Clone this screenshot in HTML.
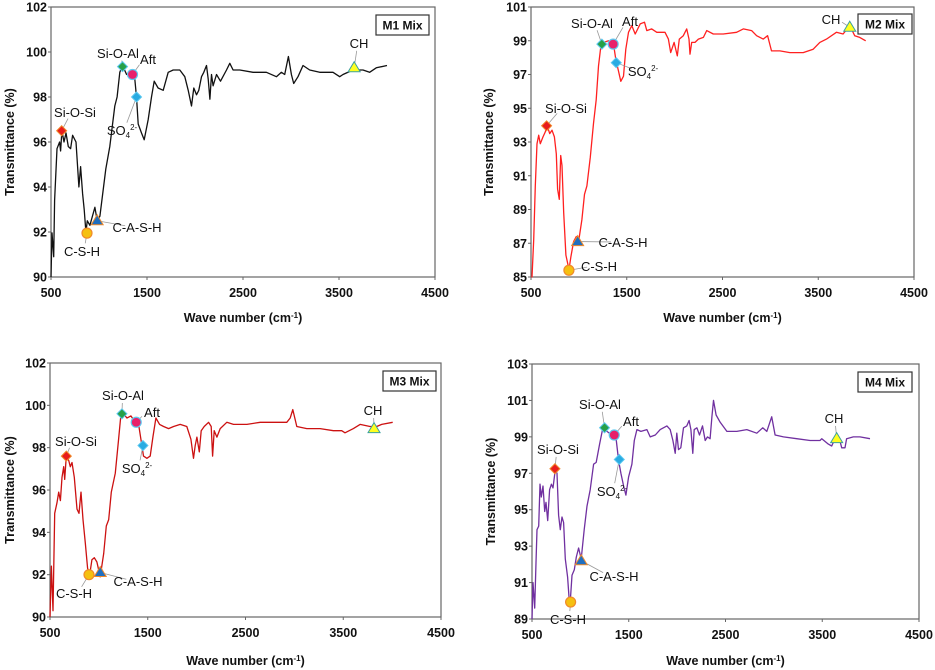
<!DOCTYPE html>
<html><head><meta charset="utf-8"><style>
html,body{margin:0;padding:0;background:#fff;}
svg{display:block;font-family:"Liberation Sans",Arial,sans-serif;}
</style></head><body>
<svg id="fig" width="935" height="670" viewBox="0 0 935 670"></svg>
<script>
// ---------- data ----------
const xTicks = [500,1500,2500,3500,4500];
const markerNames = ["Si-O-Si","C-S-H","C-A-S-H","Si-O-Al","Aft","SO4","CH"];

const m1Wave = [500,510,528,538,562,590,600,614,635,656,680,704,725,760,791,808,829,846,864,878,905,957,981,1009,1071,1113,1165,1189,1217,1245,1287,1339,1373,1391,1408,1443,1471,1512,1547,1575,1616,1669,1721,1773,1842,1894,1929,1964,1988,2016,2040,2068,2092,2120,2137,2155,2172,2189,2224,2266,2328,2363,2397,2467,2605,2744,2848,2900,2934,2973,3004,3028,3073,3125,3195,3299,3438,3507,3542,3646,3750,3819,3889,4000];
const m1Trans = [90,91.96,90.9,93.4,95.7,96.0,95.6,96.5,96.0,96.4,95.8,95.7,96.3,96.0,94.0,94.9,93.7,93.0,92.0,92.5,92.3,93.1,92.5,92.7,94.8,95.8,97.6,98.0,99.1,99.4,99.0,99.0,98.8,98.0,96.8,96.4,96.1,97.0,98.0,98.7,98.4,98.3,99.1,99.2,99.2,98.9,98.3,97.6,98.4,98.1,98.3,98.9,99.1,99.4,98.8,97.9,99.0,98.5,99.0,98.7,99.2,99.5,99.2,99.2,99.1,99.1,98.9,99.1,99.0,99.8,99.0,98.6,98.9,99.4,99.2,99.1,99.1,98.9,99.0,99.2,99.2,99.1,99.3,99.4];
const m1MarkerX = [611,875,981,1245,1349,1391,3658];
const m1MarkerY = [96.5,91.95,92.5,99.35,99.0,98.0,99.3];

const m2Wave = [505,510,528,545,563,580,597,625,649,667,695,719,744,764,778,796,810,824,841,865,883,896,917,945,973,997,1032,1059,1084,1119,1153,1181,1205,1230,1258,1310,1362,1386,1414,1438,1466,1490,1518,1553,1588,1640,1685,1709,1761,1814,1900,1935,1959,1994,2028,2049,2091,2126,2150,2161,2178,2213,2248,2300,2335,2404,2508,2647,2717,2804,2856,2925,2971,3012,3099,3204,3343,3447,3516,3586,3690,3760,3829,3881,3933,3996];
const m2Trans = [85,85,87.2,90.4,92.9,93.4,92.9,93.3,93.6,94.0,93.5,93.7,93.3,92.3,90.2,89.6,92.2,91.6,88.8,86.3,85.8,85.4,86.2,87.1,87.4,87.1,88.4,89.9,90.4,92.1,94.1,95.5,97.5,98.7,98.9,99.0,98.8,97.9,97.2,96.6,96.9,98.5,99.5,99.9,99.4,100.0,100.1,99.6,99.7,99.5,99.5,99.1,98.3,98.9,98.1,99.1,99.3,99.7,99.1,98.2,98.9,98.9,99.1,99.2,99.6,99.4,99.4,99.5,99.7,99.6,99.3,99.1,99.3,98.4,98.4,98.3,98.3,98.5,98.9,99.1,99.5,99.4,99.9,99.3,99.2,99.0];
const m2MarkerX = [663,896,987,1240,1358,1390,3829];
const m2MarkerY = [93.96,85.4,87.1,98.8,98.8,97.7,99.8];

const m3Wave = [500,514,531,548,572,589,606,623,640,650,667,691,708,725,749,776,797,817,838,861,885,906,929,953,980,1014,1049,1076,1100,1127,1168,1202,1226,1253,1287,1328,1372,1406,1430,1457,1491,1525,1553,1583,1621,1662,1713,1764,1832,1900,1941,1968,1985,2003,2027,2047,2078,2122,2149,2163,2180,2207,2241,2309,2377,2514,2650,2820,2922,2957,2984,3025,3127,3263,3399,3484,3518,3604,3672,3774,3842,3893,4006];
const m3Trans = [90,92.4,90.3,94.9,95.4,95.9,95.5,96.6,97.1,96.5,97.6,97.4,97.1,97.3,96.6,95.1,94.9,95.9,94.6,93.5,92.3,92.0,92.7,92.8,92.6,91.9,93.0,94.3,94.6,95.9,96.8,98.4,99.6,99.6,99.4,99.5,99.2,99.1,98.4,97.6,97.5,97.6,98.5,99.4,99.1,99.0,98.9,99.0,99.1,99.0,98.4,97.5,98.1,98.5,97.8,98.8,99.0,99.2,99.0,97.6,98.8,98.5,98.9,99.2,99.1,99.1,99.2,99.2,99.2,99.4,99.8,99.0,98.9,98.9,98.8,98.8,98.7,98.9,99.1,99.0,99.0,99.1,99.2];
const m3MarkerX = [667,899,1014,1236,1382,1451,3815];
const m3MarkerY = [97.6,92.0,92.1,99.6,99.2,98.1,98.9];

const m4Wave = [500,510,528,541,552,569,583,596,614,631,645,662,682,700,717,741,758,775,793,810,827,844,868,882,896,913,937,958,982,1009,1040,1068,1102,1137,1164,1199,1233,1274,1326,1371,1395,1419,1447,1471,1498,1533,1557,1584,1626,1688,1722,1774,1825,1894,1928,1956,1980,1997,2014,2038,2066,2100,2124,2142,2162,2176,2204,2231,2262,2290,2314,2341,2359,2376,2403,2445,2514,2617,2720,2823,2885,2927,2978,3013,3099,3236,3374,3477,3495,3563,3598,3632,3677,3701,3735,3752,3821,3890,3994];
const m4Trans = [89,91.0,89.6,92.1,93.9,94.1,96.4,95.7,96.3,94.9,95.4,94.4,96.1,96.4,96.2,97.2,97.0,94.7,93.9,94.6,94.3,92.3,91.3,90.2,90.0,91.4,91.7,92.4,92.9,92.3,93.9,95.2,96.1,97.5,97.6,98.6,99.5,99.3,99.1,98.8,97.7,97.0,96.3,95.8,96.8,97.5,98.8,99.4,99.3,99.4,99.0,99.1,99.4,99.6,99.4,98.8,98.1,99.2,98.3,98.4,99.5,99.6,99.9,99.4,98.1,99.4,99.5,99.1,99.6,98.8,99.0,98.9,100.1,101.0,100.2,99.8,99.3,99.3,99.4,99.2,99.5,99.3,100.1,99.1,99.0,98.9,98.8,98.8,98.9,98.6,98.5,98.9,98.9,98.4,98.4,98.9,99.0,99.0,98.9];
const m4MarkerX = [737,899,1009,1250,1350,1402,3649];
const m4MarkerY = [97.25,89.93,92.2,99.5,99.1,97.76,98.9];

const m1YTicks=[90,92,94,96,98,100,102];
const m2YTicks=[85,87,89,91,93,95,97,99,101];
const m3YTicks=[90,92,94,96,98,100,102];
const m4YTicks=[89,91,93,95,97,99,101,103];

// ---------- layout (not data) ----------
const panels = [
 {id:"m1",title:"M1 Mix",wave:m1Wave,trans:m1Trans,mx:m1MarkerX,my:m1MarkerY,yTicks:m1YTicks,color:"#111",
  L:51,R:435,T:7,B:277,box:[376,15,53,20],yTitleX:10,xTitleY:322,
  labels:[[75,112],[82,251],[137,227],[118,53],[148,59],[122,130],[359,43]]},
 {id:"m2",title:"M2 Mix",wave:m2Wave,trans:m2Trans,mx:m2MarkerX,my:m2MarkerY,yTicks:m2YTicks,color:"#ff2020",
  L:531,R:914,T:7,B:277,box:[858,14,54,20],yTitleX:489,xTitleY:322,
  labels:[[566,108],[599,266],[623,242],[592,23],[630,21],[643,71],[831,19]]},
 {id:"m3",title:"M3 Mix",wave:m3Wave,trans:m3Trans,mx:m3MarkerX,my:m3MarkerY,yTicks:m3YTicks,color:"#cc1111",
  L:50,R:441,T:363,B:617,box:[383,371,53,20],yTitleX:10,xTitleY:665,
  labels:[[76,441],[74,593],[138,581],[123,395],[152,412],[137,468],[373,410]]},
 {id:"m4",title:"M4 Mix",wave:m4Wave,trans:m4Trans,mx:m4MarkerX,my:m4MarkerY,yTicks:m4YTicks,color:"#7030a0",
  L:532,R:919,T:364,B:619,box:[858,372,54,20],yTitleX:491,xTitleY:665,
  labels:[[558,449],[568,619],[614,576],[600,404],[631,421],[612,491],[834,418]]}
];
const NS="http://www.w3.org/2000/svg";
const svg=document.getElementById("fig");
function mk(tag,attrs,parent){const e=document.createElementNS(NS,tag);for(const k in attrs)e.setAttribute(k,attrs[k]);(parent||svg).appendChild(e);return e;}

panels.forEach(p=>{
  const g=mk("g",{});
  
  
  const y0=p.yTicks[0], y1=p.yTicks[p.yTicks.length-1];
  const xs=v=>p.L+(v-500)/(4000)*(p.R-p.L);
  const ys=v=>p.B-(v-y0)/(y1-y0)*(p.B-p.T);
  const frame=mk("rect",{x:p.L,y:p.T,width:p.R-p.L,height:p.B-p.T,fill:"none",stroke:"#666","stroke-width":1.2},g);
  
  
  p.yTicks.forEach(t=>{
    const tx=mk("text",{x:p.L-4,y:ys(t)+4.5,"text-anchor":"end","font-size":12.5,"font-weight":"bold",fill:"#111"},g);
    tx.textContent=t;
    
    
    mk("line",{x1:p.L-3,x2:p.L,y1:ys(t),y2:ys(t),stroke:"#666"},g);
  });
  xTicks.forEach(t=>{
    const tx=mk("text",{x:xs(t),y:p.B+20,"text-anchor":"middle","font-size":12.5,"font-weight":"bold",fill:"#111"},g);
    tx.textContent=t;
    
    
    mk("line",{x1:xs(t),x2:xs(t),y1:p.B,y2:p.B+3,stroke:"#666"},g);
  });
  const yt=mk("text",{x:p.yTitleX,y:(p.T+p.B)/2,"text-anchor":"middle","font-size":12.5,"font-weight":"bold",fill:"#111",transform:`rotate(-90 ${p.yTitleX} ${(p.T+p.B)/2}) translate(0 4)`},g);
  yt.textContent="Transmittance (%)";
  
  
  const xt=mk("text",{x:(p.L+p.R)/2,y:p.xTitleY,"text-anchor":"middle","font-size":12.5,"font-weight":"bold",fill:"#111"},g);
  xt.innerHTML='Wave number (cm<tspan dy="-4" font-size="8">-1</tspan><tspan dy="4">)</tspan>';
  
  
  const d=p.wave.map((w,i)=>(i?"L":"M")+xs(w).toFixed(1)+","+ys(p.trans[i]).toFixed(1)).join("");
  const line=mk("path",{d:d,fill:"none",stroke:p.color,"stroke-width":1.3,"stroke-linejoin":"round"},g);
  
  
  p.mx.forEach((w,i)=>{
    const cx=xs(w), cy=ys(p.my[i]);
    const [lx,ly]=p.labels[i];
    const dx=lx-cx, dy=ly-cy, len=Math.hypot(dx,dy);
    if(len>14){
      const ld=mk("line",{x1:cx,y1:cy,x2:cx+dx*(len-12)/len,y2:cy+dy*(len-8)/len,stroke:"#999","stroke-width":0.8},g);
      
      
    }
    let m;
    const n=markerNames[i];
    if(n==="Si-O-Si"||n==="Si-O-Al"||n==="SO4"){
      const fill=n==="Si-O-Si"?"#e81c1c":n==="Si-O-Al"?"#27a048":"#29abe2";
      const st=n==="Si-O-Si"?"#f08a2a":"#5cc8f0";
      m=mk("path",{d:`M${cx},${cy-5}L${cx+5},${cy}L${cx},${cy+5}L${cx-5},${cy}Z`,fill:fill,stroke:st,"stroke-width":1},g);
    } else if(n==="C-S-H"||n==="Aft"){
      m=mk("circle",{cx:cx,cy:cy,r:5,fill:n==="Aft"?"#e8206a":"#f5c010",stroke:n==="Aft"?"#5cc8f0":"#f08a2a","stroke-width":1.2},g);
    } else {
      const fill=n==="CH"?"#ffff20":"#1f6fc0";
      const st=n==="CH"?"#3aa0a0":"#f08a2a";
      m=mk("path",{d:`M${cx},${cy-6}L${cx+6},${cy+4}L${cx-6},${cy+4}Z`,fill:fill,stroke:st,"stroke-width":1},g);
    }
    
    
    const lt=mk("text",{x:lx,y:ly+5,"text-anchor":"middle","font-size":13,fill:"#111"},g);
    if(n==="SO4") lt.innerHTML='SO<tspan dy="3" font-size="8">4</tspan><tspan dy="-8" font-size="8">2-</tspan>';
    else lt.textContent=n;
    
    
  });
  const [bx,by,bw,bh]=p.box;
  const br=mk("rect",{x:bx,y:by,width:bw,height:bh,fill:"#fff",stroke:"#333","stroke-width":1.2},g);
  
  
  const bt=mk("text",{x:bx+bw/2,y:by+bh/2+4.5,"text-anchor":"middle","font-size":12,"font-weight":"bold",fill:"#111"},g);
  bt.textContent=p.title;
  
  
});
</script>
</body></html>
